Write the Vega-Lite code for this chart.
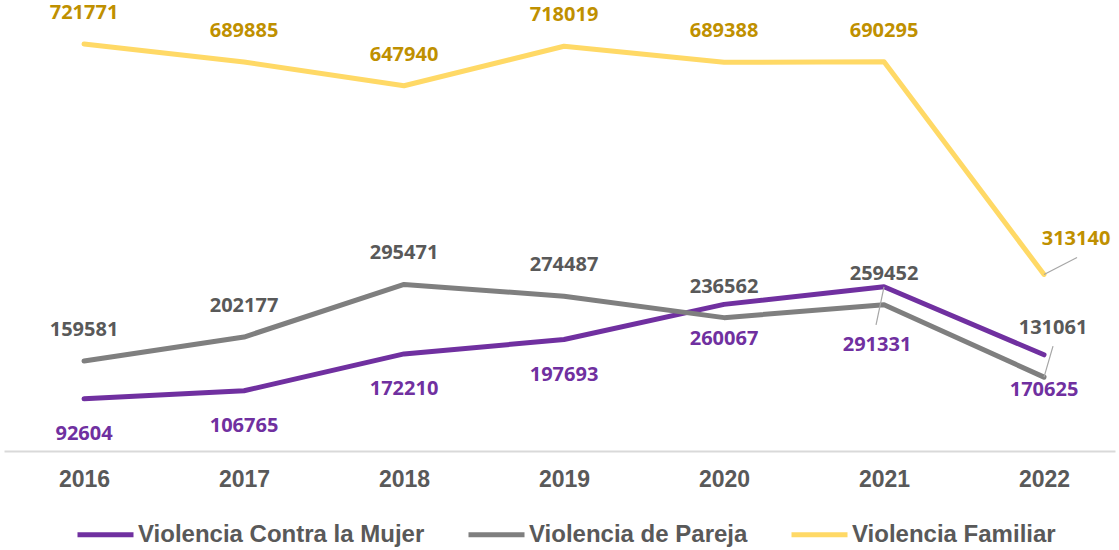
{
  "$schema": "https://vega.github.io/schema/vega-lite/v6.json",
  "width": 1111,
  "height": 451,
  "autosize": {"type": "none"},
  "padding": {"left": 4, "right": 4, "top": 0, "bottom": 99},
  "background": "white",
  "config": {"view": {"stroke": null}},
  "data": {"values": [
    {"year": "2016", "serie": "Violencia Contra la Mujer", "value": 92604},
    {"year": "2017", "serie": "Violencia Contra la Mujer", "value": 106765},
    {"year": "2018", "serie": "Violencia Contra la Mujer", "value": 172210},
    {"year": "2019", "serie": "Violencia Contra la Mujer", "value": 197693},
    {"year": "2020", "serie": "Violencia Contra la Mujer", "value": 260067},
    {"year": "2021", "serie": "Violencia Contra la Mujer", "value": 291331},
    {"year": "2022", "serie": "Violencia Contra la Mujer", "value": 170625},
    {"year": "2016", "serie": "Violencia de Pareja", "value": 159581},
    {"year": "2017", "serie": "Violencia de Pareja", "value": 202177},
    {"year": "2018", "serie": "Violencia de Pareja", "value": 295471},
    {"year": "2019", "serie": "Violencia de Pareja", "value": 274487},
    {"year": "2020", "serie": "Violencia de Pareja", "value": 236562},
    {"year": "2021", "serie": "Violencia de Pareja", "value": 259452},
    {"year": "2022", "serie": "Violencia de Pareja", "value": 131061},
    {"year": "2016", "serie": "Violencia Familiar", "value": 721771},
    {"year": "2017", "serie": "Violencia Familiar", "value": 689885},
    {"year": "2018", "serie": "Violencia Familiar", "value": 647940},
    {"year": "2019", "serie": "Violencia Familiar", "value": 718019},
    {"year": "2020", "serie": "Violencia Familiar", "value": 689388},
    {"year": "2021", "serie": "Violencia Familiar", "value": 690295},
    {"year": "2022", "serie": "Violencia Familiar", "value": 313140}
  ]},
  "encoding": {
    "x": {"field": "year", "type": "ordinal", "scale": {"type": "point", "padding": 0.472, "align": 0.53},
      "axis": {"title": null, "labelAngle": 0, "ticks": false, "grid": false, "domainColor": "#d9d9d9", "domainWidth": 2,
        "labelFont": "Liberation Sans", "labelFontSize": 23, "labelFontWeight": "bold", "labelColor": "#595959", "labelPadding": 17}},
    "y": {"field": "value", "type": "quantitative", "scale": {"domain": [0, 800000], "nice": false, "zero": true}, "axis": null}
  },
  "layer": [
    {
      "mark": {"type": "line", "strokeWidth": 5, "strokeCap": "round", "strokeJoin": "round"},
      "encoding": {
        "color": {"field": "serie", "type": "nominal",
          "scale": {"domain": ["Violencia Contra la Mujer", "Violencia de Pareja", "Violencia Familiar"], "range": ["#7030A0", "#7F7F7F", "#FFD966"]},
          "legend": {"title": null, "orient": "none", "direction": "horizontal", "legendX": 71, "legendY": 504,
            "symbolType": "stroke", "symbolStrokeWidth": 5, "symbolSize": 3136, "labelOffset": 2, "columnPadding": 33,
            "labelFont": "Liberation Sans", "labelFontSize": 24, "labelFontWeight": "bold", "labelColor": "#595959", "labelLimit": 400}}
      }
    },
    {
      "transform": [{"filter": "datum.serie === 'Violencia Familiar' && datum.year !== '2022'"}],
      "mark": {"type": "text", "font": "Open Sans", "fontSize": 20, "fontWeight": "bold", "color": "#BF9000", "baseline": "middle", "dy": -31},
      "encoding": {"text": {"field": "value", "type": "quantitative", "format": "d"}}
    },
    {
      "transform": [{"filter": "datum.serie === 'Violencia Familiar' && datum.year === '2022'"}],
      "mark": {"type": "text", "font": "Open Sans", "fontSize": 20, "fontWeight": "bold", "color": "#BF9000", "baseline": "middle", "dx": 32, "dy": -35},
      "encoding": {"text": {"field": "value", "type": "quantitative", "format": "d"}}
    },
    {
      "transform": [{"filter": "datum.serie === 'Violencia de Pareja' && datum.year !== '2022'"}],
      "mark": {"type": "text", "font": "Open Sans", "fontSize": 20, "fontWeight": "bold", "color": "#595959", "baseline": "middle", "dy": -31},
      "encoding": {"text": {"field": "value", "type": "quantitative", "format": "d"}}
    },
    {
      "transform": [{"filter": "datum.serie === 'Violencia de Pareja' && datum.year === '2022'"}],
      "mark": {"type": "text", "font": "Open Sans", "fontSize": 20, "fontWeight": "bold", "color": "#595959", "baseline": "middle", "dx": 9, "dy": -49},
      "encoding": {"text": {"field": "value", "type": "quantitative", "format": "d"}}
    },
    {
      "transform": [{"filter": "datum.serie === 'Violencia Contra la Mujer' && datum.year !== '2021'"}],
      "mark": {"type": "text", "font": "Open Sans", "fontSize": 20, "fontWeight": "bold", "color": "#7030A0", "baseline": "middle", "dy": 35},
      "encoding": {"text": {"field": "value", "type": "quantitative", "format": "d"}}
    },
    {
      "transform": [{"filter": "datum.serie === 'Violencia Contra la Mujer' && datum.year === '2021'"}],
      "mark": {"type": "text", "font": "Open Sans", "fontSize": 20, "fontWeight": "bold", "color": "#7030A0", "baseline": "middle", "dx": -7, "dy": 58},
      "encoding": {"text": {"field": "value", "type": "quantitative", "format": "d"}}
    },
    {
      "transform": [{"filter": "datum.serie === 'Violencia Contra la Mujer' && datum.year === '2021'"}],
      "mark": {"type": "rule", "color": "#A6A6A6", "strokeWidth": 1.2, "x2Offset": -8, "y2Offset": 38},
      "encoding": {"x2": {"field": "year"}, "y2": {"field": "value"}}
    },
    {
      "transform": [{"filter": "datum.serie === 'Violencia de Pareja' && datum.year === '2022'"}],
      "mark": {"type": "rule", "color": "#A6A6A6", "strokeWidth": 1.2, "x2Offset": 9, "y2Offset": -31},
      "encoding": {"x2": {"field": "year"}, "y2": {"field": "value"}}
    },
    {
      "transform": [{"filter": "datum.serie === 'Violencia Familiar' && datum.year === '2022'"}],
      "mark": {"type": "rule", "color": "#A6A6A6", "strokeWidth": 1.2, "x2Offset": 33, "y2Offset": -17},
      "encoding": {"x2": {"field": "year"}, "y2": {"field": "value"}}
    }
  ]
}
